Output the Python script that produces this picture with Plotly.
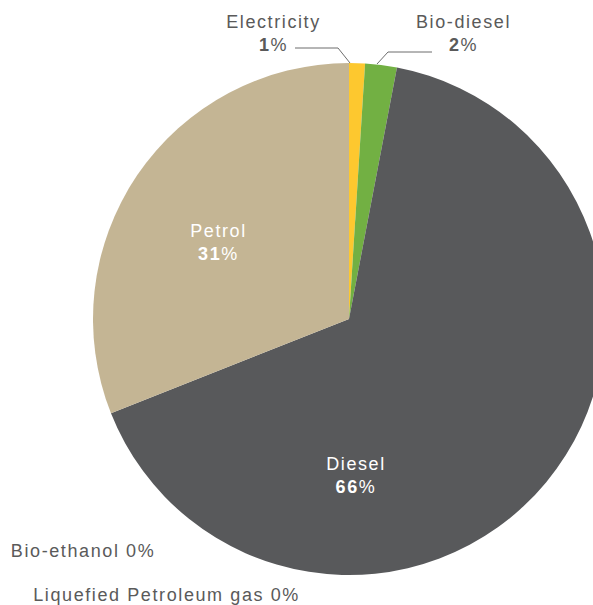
import plotly.graph_objects as go

# Energy share by fuel type
fuels = ["Electricity", "Bio-diesel", "Diesel", "Petrol", "Bio-ethanol", "Liquefied Petroleum gas"]
shares = [1, 2, 66, 31, 0, 0]
colors = ["#fdc82f", "#72b043", "#58595b", "#c4b594", "#9fc5e8", "#a4a4a4"]

W, H = 698, 605


def px(x, y):
    """Pixel position -> paper coordinates."""
    return x / W, 1 - y / H


total = sum(shares)
pct = {f: round(100 * v / total) for f, v in zip(fuels, shares)}

fig = go.Figure(
    go.Pie(
        labels=fuels,
        values=shares,
        sort=False,
        direction="clockwise",
        rotation=0,
        marker=dict(colors=colors, line=dict(width=0)),
        textinfo="none",
        hoverinfo="skip",
        showlegend=False,
        domain=dict(x=[0, 1], y=[px(0, 575)[1], px(0, 63)[1]]),
    )
)

FONT = "Liberation Sans, Arial, sans-serif"
GREY = "#5a5a5a"
annotations = []


def add_text(x, y, text, color, size=18):
    ax, ay = px(x, y)
    annotations.append(
        dict(x=ax, y=ay, xref="paper", yref="paper", text=text, showarrow=False,
             xanchor="center", yanchor="middle", align="center",
             font=dict(family=FONT, size=size, color=color))
    )


# labels inside the large slices
add_text(218, 243, f"Petrol<br><b>{pct['Petrol']}</b>%", "white")
add_text(356, 475, f"Diesel<br><b>{pct['Diesel']}</b>%", "white")

# labels for the thin slices at the top
add_text(273, 34, f"Electricity<br><b>{pct['Electricity']}</b>%", GREY)
add_text(463, 34, f"Bio-diesel<br><b>{pct['Bio-diesel']}</b>%", GREY)

# zero-share fuels
add_text(83, 551, f"Bio-ethanol {pct['Bio-ethanol']}%", GREY)
add_text(166, 595, f"Liquefied Petroleum gas {pct['Liquefied Petroleum gas']}%", GREY)

# leader lines
shapes = []


def leader(points):
    pts = [px(x, y) for x, y in points]
    path = "M " + " L ".join(f"{a},{b}" for a, b in pts)
    shapes.append(dict(type="path", path=path, xref="paper", yref="paper",
                       line=dict(color="#6d6d6d", width=1)))


leader([(295, 48), (338, 48), (350, 63)])
leader([(432, 52), (388, 52), (377, 64)])

fig.update_layout(
    width=W,
    height=H,
    margin=dict(l=0, r=0, t=0, b=0),
    paper_bgcolor="white",
    plot_bgcolor="white",
    annotations=annotations,
    shapes=shapes,
)

# page styling: no scrollbars, slightly tracked label text, then redraw
post = """
document.documentElement.style.overflow='hidden';
document.body.style.overflow='hidden';
document.body.style.margin='0';
var st=document.createElement('style');
st.textContent='.annotation-text{letter-spacing:1.6px}';
document.head.appendChild(st);
var gd=document.getElementById('{plot_id}');
Plotly.newPlot(gd, gd.data, gd.layout, gd._context);
"""

fig.write_html("out.html", post_script=post)
